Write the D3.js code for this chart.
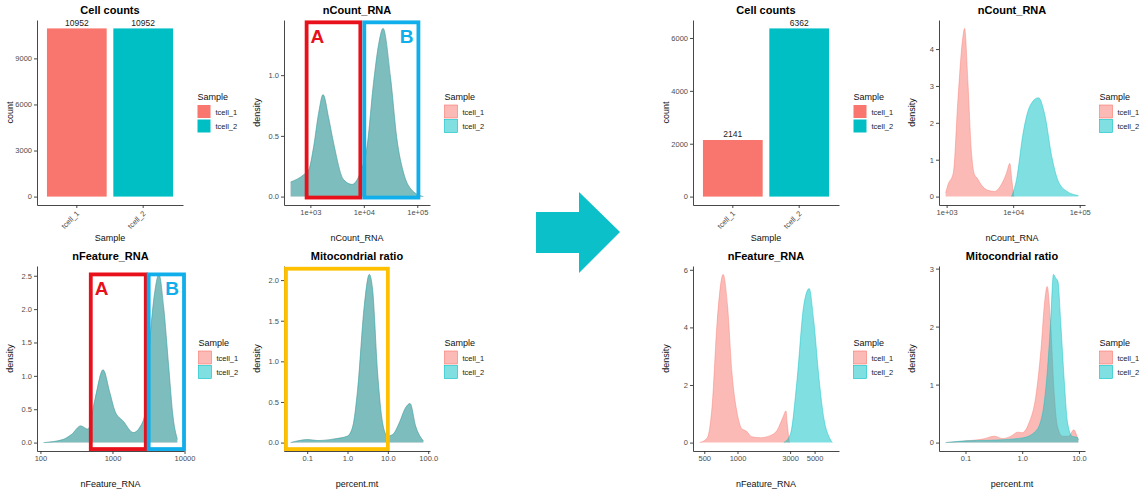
<!DOCTYPE html>
<html><head><meta charset="utf-8">
<script src="https://cdn.jsdelivr.net/npm/d3@7"></script>
<style>
body{margin:0;background:#fff;}
svg{display:block;}
</style></head><body>
<svg id="chart" width="1148" height="493"></svg>
<script>
// ---------------- DATA ----------------
const samples = ["tcell_1", "tcell_2"];
const sampleColors = ["#F8766D", "#00BFC4"];

const beforeCounts = [10952, 10952];
const afterCounts = [2141, 6362];
const beforeCountTicks = [0, 3000, 6000, 9000];
const afterCountTicks = [0, 2000, 4000, 6000];

// density curves: [value, density]
const beforeNCount = [[427,0.12],[750,0.18],[930,0.22],[1150,0.41],[1430,0.69],[1726,0.84],[2190,0.65],[2720,0.44],[4170,0.14],[6030,0.1],[8610,0.2],[11480,0.41],[15140,0.93],[19050,1.26],[22900,1.385],[31600,0.98],[41700,0.47],[55000,0.2],[85000,0.04],[130000,0]];
const beforeNFeature = [[111,0],[204,0.045],[269,0.12],[363,0.25],[457,0.2],[569,0.64],[741,1.09],[923,0.74],[1084,0.47],[1413,0.32],[1950,0.15],[2427,0.24],[2851,0.45],[3311,1.54],[3890,2.28],[4416,2.52],[5129,2.03],[6026,1.14],[6918,0.39],[7943,0.05]];
const beforeMito = [[0.0389,0],[0.105,0.037],[0.182,0.025],[0.468,0.045],[1.0,0.08],[1.35,0.2],[1.78,0.65],[2.6,1.68],[3.47,2.07],[4.17,1.89],[5.56,0.86],[7.41,0.24],[9.77,0.08],[13.2,0.1],[19.1,0.24],[27.5,0.43],[35.5,0.48],[49,0.2],[75.9,0.02]];

const afterNCountT1 = [[966,0.1],[1047,0.32],[1259,0.64],[1479,2.64],[1738,4.27],[1862,4.56],[2089,3.1],[2344,1.28],[2630,0.59],[2884,0.5],[3311,0.32],[4169,0.17],[5248,0.14],[6607,0.32],[7943,0.64],[8913,0.9],[9550,0.45],[10233,0]];
const afterNCountT2 = [[9441,0],[11220,0.46],[14125,1.73],[17783,2.45],[23988,2.68],[30200,2.18],[38019,1.09],[47863,0.41],[64565,0.14],[95499,0.03]];
const afterNFeatureT1 = [[454,0],[531,0.16],[589,1.27],[653,4.16],[741,5.84],[813,4.75],[891,2.43],[1000,0.97],[1096,0.48],[1202,0.4],[1349,0.2],[1622,0.17],[1995,0.25],[2291,0.43],[2570,0.86],[2754,1.1],[2818,0.7],[2951,0]];
const afterNFeatureT2 = [[2630,0],[3020,0.3],[3467,2.19],[3981,4.75],[4467,5.35],[4898,4.28],[5495,2.19],[6095,0.8],[6761,0.2],[7244,0]];
const afterMitoT1 = [[0.0447,0],[0.102,0.03],[0.2,0.06],[0.324,0.11],[0.447,0.07],[0.631,0.11],[0.832,0.18],[1.0,0.17],[1.318,0.34],[1.738,0.8],[2.138,1.6],[2.512,2.47],[2.754,2.69],[3.162,2.06],[3.631,0.91],[4.169,0.28],[5.129,0.11],[6.607,0.11],[8.128,0.22],[9.333,0.1],[9.772,0.05]];
const afterMitoT2 = [[0.0447,0],[0.102,0.03],[0.263,0.04],[1.0,0.08],[1.738,0.2],[2.291,0.51],[2.754,1.2],[3.162,2.06],[3.548,2.9],[3.89,2.84],[4.266,2.78],[4.786,2.06],[5.495,1.09],[6.31,0.34],[7.586,0.11],[9.333,0.09],[9.772,0.05]];

// tick values / labels
const nCountTicks = [1e3, 1e4, 1e5];
const nCountLabels = ["1e+03", "1e+04", "1e+05"];
const beforeFeatTicks = [100, 1000, 10000];
const beforeFeatLabels = ["100", "1000", "10000"];
const afterFeatTicks = [500, 1000, 3000, 5000];
const afterFeatLabels = ["500", "1000", "3000", "5000"];
const beforeMitoTicks = [0.1, 1, 10, 100];
const beforeMitoLabels = ["0.1", "1.0", "10.0", "100.0"];
const afterMitoTicks = [0.1, 1, 10];
const afterMitoLabels = ["0.1", "1.0", "10.0"];
const beforeNCountY = [0, 0.5, 1.0];
const beforeNCountYLabels = ["0.0", "0.5", "1.0"];
const beforeFeatY = [0, 0.5, 1, 1.5, 2, 2.5];
const beforeFeatYLabels = ["0.0", "0.5", "1.0", "1.5", "2.0", "2.5"];
const beforeMitoY = [0, 0.5, 1, 1.5, 2];
const beforeMitoYLabels = ["0.0", "0.5", "1.0", "1.5", "2.0"];
const afterNCountY = [0, 1, 2, 3, 4];
const afterFeatY = [0, 2, 4, 6];
const afterMitoY = [0, 1, 2, 3];

// annotation boxes (data units)
const boxesNCount = [{label:"A", x0:850, x1:8600, y0:-0.008, y1:1.435, color:"#E8101A", anchor:"start"},
                     {label:"B", x0:10200, x1:105000, y0:-0.008, y1:1.435, color:"#10AEEA", anchor:"end"}];
const boxesNFeature = [{label:"A", x0:500, x1:2900, y0:-0.097, y1:2.52, color:"#E8101A", anchor:"start"},
                       {label:"B", x0:3180, x1:9840, y0:-0.097, y1:2.52, color:"#10AEEA", anchor:"end"}];
const boxesMito = [{label:"", x0:0.0298, x1:10, y0:-0.08, y1:2.14, color:"#FFC000", anchor:"start"}];

// ---------------- DRAW ----------------
const FONT = '"Liberation Sans", Arial, Helvetica, sans-serif';
const svg = d3.select("#chart").attr("font-family", FONT);

function styleAxis(sel) {
  sel.attr("font-family", FONT);
  sel.select(".domain").attr("stroke", "#333").attr("stroke-width", 0.9);
  sel.selectAll(".tick line").attr("stroke", "#333").attr("stroke-width", 0.9);
  sel.selectAll(".tick text").attr("fill", "#4d4d4d").attr("font-size", "7.5px");
}

function frame(g, box, title, xTitle, yTitle) {
  g.append("text").attr("x", (box.x0 + box.x1) / 2).attr("y", box.y0 - 6)
    .attr("text-anchor", "middle").attr("font-weight", "bold").attr("font-size", "11px").attr("fill", "#000").text(title);
  g.append("text").attr("x", (box.x0 + box.x1) / 2).attr("y", box.y1 + 36)
    .attr("text-anchor", "middle").attr("font-size", "9px").attr("fill", "#111").text(xTitle);
  g.append("text").attr("transform", `translate(${box.x0 - 24},${(box.y0 + box.y1) / 2}) rotate(-90)`)
    .attr("text-anchor", "middle").attr("font-size", "9px").attr("fill", "#111").text(yTitle);
}

function legend(g, box, solid) {
  const lx = box.x1 + 14.5;
  g.append("text").attr("x", lx).attr("y", box.y0 + 80).attr("font-size", "9px").attr("fill", "#111").text("Sample");
  samples.forEach((s, i) => {
    const ky = box.y0 + 85 + i * 14.5;
    g.append("rect").attr("x", lx).attr("y", ky).attr("width", 13).attr("height", 13)
      .attr("fill", sampleColors[i]).attr("fill-opacity", solid ? 1 : 0.5)
      .attr("stroke", solid ? "none" : sampleColors[i]).attr("stroke-width", 0.6);
    g.append("text").attr("x", lx + 18).attr("y", ky + 9.5).attr("font-size", "7.5px").attr("fill", "#222").text(s);
  });
}

function barPanel(box, counts, ticks, title) {
  const g = svg.append("g");
  const x = d3.scaleBand().domain(samples).range([box.x0, box.x1]).paddingInner(0.1).paddingOuter(0.15);
  const ymax = d3.max(counts);
  const y = d3.scaleLinear().domain([-ymax * 0.05, ymax * 1.05]).range([box.y1, box.y0]);
  g.selectAll(".bar").data(samples).enter().append("rect")
    .attr("x", d => x(d)).attr("width", x.bandwidth())
    .attr("y", (d, i) => y(counts[i])).attr("height", (d, i) => y(0) - y(counts[i]))
    .attr("fill", (d, i) => sampleColors[i]);
  g.selectAll(".lab").data(samples).enter().append("text")
    .attr("x", d => x(d) + x.bandwidth() / 2).attr("y", (d, i) => y(counts[i]) - 2.5)
    .attr("text-anchor", "middle").attr("font-size", "8.5px").attr("fill", "#222")
    .text((d, i) => counts[i]);
  const ax = g.append("g").attr("transform", `translate(0,${box.y1})`)
    .call(d3.axisBottom(x).tickSize(3).tickSizeOuter(0).tickPadding(2));
  styleAxis(ax);
  ax.selectAll(".tick text").attr("y", 0).attr("dy", 0).attr("text-anchor", "end")
    .attr("transform", "translate(3,9) rotate(-45)");
  const ay = g.append("g").attr("transform", `translate(${box.x0},0)`)
    .call(d3.axisLeft(y).tickValues(ticks).tickFormat(d3.format("d")).tickSize(3).tickSizeOuter(0).tickPadding(2));
  styleAxis(ay);
  frame(g, box, title, "Sample", "count");
  legend(g, box, true);
}

function densityPanel(box, series, cfg) {
  const g = svg.append("g");
  const all = series.flat();
  const lx0 = Math.log10(d3.min(all, d => d[0])), lx1 = Math.log10(d3.max(all, d => d[0]));
  const lp = (lx1 - lx0) * 0.05;
  const x = d3.scaleLog().domain([10 ** (lx0 - lp), 10 ** (lx1 + lp)]).range([box.x0, box.x1]);
  const ymax = d3.max(all, d => d[1]);
  const y = d3.scaleLinear().domain([-ymax * 0.05, ymax * 1.05]).range([box.y1, box.y0]);
  const area = d3.area().x(d => x(d[0])).y0(y(0)).y1(d => y(d[1])).curve(d3.curveMonotoneX);
  const line = d3.line().x(d => x(d[0])).y(d => y(d[1])).curve(d3.curveMonotoneX);
  series.forEach((s, i) => {
    g.append("path").attr("d", area(s)).attr("fill", sampleColors[i]).attr("fill-opacity", 0.5);
    g.append("path").attr("d", line(s)).attr("fill", "none").attr("stroke", sampleColors[i])
      .attr("stroke-opacity", 0.7).attr("stroke-width", 0.6);
  });
  const ax = g.append("g").attr("transform", `translate(0,${box.y1})`)
    .call(d3.axisBottom(x).tickValues(cfg.xTicks).tickFormat((d, i) => cfg.xLabels[i]).tickSize(3).tickSizeOuter(0).tickPadding(2));
  styleAxis(ax);
  const ay = g.append("g").attr("transform", `translate(${box.x0},0)`)
    .call(d3.axisLeft(y).tickValues(cfg.yTicks).tickFormat((d, i) => cfg.yLabels ? cfg.yLabels[i] : d).tickSize(3).tickSizeOuter(0).tickPadding(2));
  styleAxis(ay);
  frame(g, box, cfg.title, cfg.xTitle, "density");
  legend(g, box, false);
  if (cfg.boxes) {
    cfg.boxes.forEach(b => {
      const rx0 = x(b.x0), rx1 = x(b.x1), ry0 = y(b.y1), ry1 = y(b.y0);
      g.append("rect").attr("x", rx0).attr("y", ry0).attr("width", rx1 - rx0).attr("height", ry1 - ry0)
        .attr("fill", "none").attr("stroke", b.color).attr("stroke-width", 3.8);
      if (b.label) {
        g.append("text").attr("x", b.anchor === "start" ? rx0 + 4 : rx1 - 5).attr("y", ry0 + 21)
          .attr("text-anchor", b.anchor).attr("font-weight", "bold").attr("font-size", "19px")
          .attr("fill", b.color).text(b.label);
      }
    });
  }
}

const B1 = {x0: 37, x1: 183, y0: 20, y1: 205};
const B2 = {x0: 284, x1: 430, y0: 20, y1: 205};
const B3 = {x0: 37, x1: 184, y0: 266, y1: 451};
const B4 = {x0: 284, x1: 430, y0: 266, y1: 451};
const B5 = {x0: 693, x1: 839, y0: 20, y1: 205};
const B6 = {x0: 939, x1: 1085, y0: 20, y1: 205};
const B7 = {x0: 693, x1: 839, y0: 266, y1: 451};
const B8 = {x0: 939, x1: 1085, y0: 266, y1: 451};

barPanel(B1, beforeCounts, beforeCountTicks, "Cell counts");
densityPanel(B2, [beforeNCount, beforeNCount], {title: "nCount_RNA", xTitle: "nCount_RNA", xTicks: nCountTicks, xLabels: nCountLabels, yTicks: beforeNCountY, yLabels: beforeNCountYLabels, boxes: boxesNCount});
densityPanel(B3, [beforeNFeature, beforeNFeature], {title: "nFeature_RNA", xTitle: "nFeature_RNA", xTicks: beforeFeatTicks, xLabels: beforeFeatLabels, yTicks: beforeFeatY, yLabels: beforeFeatYLabels, boxes: boxesNFeature});
densityPanel(B4, [beforeMito, beforeMito], {title: "Mitocondrial ratio", xTitle: "percent.mt", xTicks: beforeMitoTicks, xLabels: beforeMitoLabels, yTicks: beforeMitoY, yLabels: beforeMitoYLabels, boxes: boxesMito});

barPanel(B5, afterCounts, afterCountTicks, "Cell counts");
densityPanel(B6, [afterNCountT1, afterNCountT2], {title: "nCount_RNA", xTitle: "nCount_RNA", xTicks: nCountTicks, xLabels: nCountLabels, yTicks: afterNCountY});
densityPanel(B7, [afterNFeatureT1, afterNFeatureT2], {title: "nFeature_RNA", xTitle: "nFeature_RNA", xTicks: afterFeatTicks, xLabels: afterFeatLabels, yTicks: afterFeatY});
densityPanel(B8, [afterMitoT1, afterMitoT2], {title: "Mitocondrial ratio", xTitle: "percent.mt", xTicks: afterMitoTicks, xLabels: afterMitoLabels, yTicks: afterMitoY});

// big arrow between before / after
svg.append("polygon")
  .attr("points", [[536,212],[579,212],[579,192],[620,232],[579,273],[579,253],[536,253]].map(p => p.join(",")).join(" "))
  .attr("fill", "#0BC0C8");
</script>
</body></html>
